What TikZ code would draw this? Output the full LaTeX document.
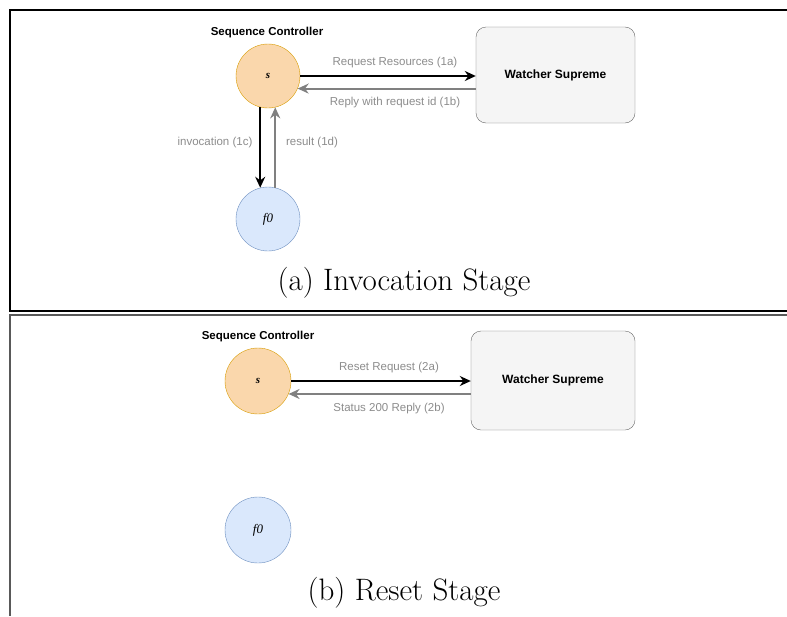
\documentclass[tikz,border=0pt]{standalone}
\usepackage{fontspec}
\newfontfamily\diagfont{Liberation Sans}
\newfontfamily\varfont{Liberation Serif}
\usepackage{tikz}
\usetikzlibrary{arrows.meta,positioning}
\usepackage{xcolor}
\definecolor{sfill}{HTML}{FAD7AC}
\definecolor{sdraw}{HTML}{D79B00}
\definecolor{ffill}{HTML}{DAE8FC}
\definecolor{fdraw}{HTML}{6C8EBF}
\definecolor{boxfill}{HTML}{F5F5F5}
\definecolor{boxdraw}{HTML}{666666}
\definecolor{lblgray}{HTML}{8C8C8C}
\definecolor{backgray}{HTML}{808080}

\begin{document}
\begin{tikzpicture}[x=1pt, y=-1pt,
    ctl/.style={circle, draw=sdraw, fill=sfill, minimum size=#1, inner sep=0pt, font=\varfont\itshape\bfseries\fontsize{11}{13}\selectfont},
    ctl/.default=64pt,
    fn/.style={circle, draw=fdraw, fill=ffill, minimum size=#1, inner sep=0pt, font=\varfont\itshape\fontsize{13}{15}\selectfont},
    fn/.default=64pt,
    watcher/.style={rectangle, draw=boxdraw, fill=boxfill, rounded corners=10pt, font=\diagfont\bfseries\fontsize{12}{14}\selectfont},
    ttl/.style={font=\diagfont\bfseries\fontsize{11.5}{13}\selectfont},
    msg/.style={font=\diagfont\fontsize{11.5}{13}\selectfont, text=lblgray},
    fwd/.style={-{Stealth[length=11pt, width=10pt]}, line width=2.5pt, black},
    back/.style={-{Stealth[length=11pt, width=10pt]}, line width=2pt, backgray},
    stagecap/.style={font=\fontsize{31}{37}\selectfont},
    frame/.style={line width=1.5pt}
]
\useasboundingbox (0,0) rectangle (787,616);

% Panel frames
\draw[frame] (787,10) -- (10,10) -- (10,311) -- (787,311);
\draw[frame, black!65] (787,315) -- (10,315) -- (10,616);

% (a) Invocation stage
\node[ttl] (ttla) at (267,33) {Sequence Controller};
\node[ctl] (sa) at (268,76) {s};
\node[fn] (fa) at (268,219) {f0};
\node[watcher, minimum width=159pt, minimum height=96pt] (wa) at (555.5,75) {Watcher Supreme};

\draw[fwd] (sa.east) -- (sa.east -| wa.west);
\draw[back] (sa.-23 -| wa.west) -- (sa.-23);
\node[msg] (m1a) at (395,63) {Request Resources (1a)};
\node[msg] (m1b) at (395,103) {Reply with request id (1b)};

\draw[fwd] (sa.-104) -- (fa.104);
\draw[back] (fa.77) -- (sa.-77);
\node[msg] (m1c) at (215,143) {invocation (1c)};
\node[msg] (m1d) at (312,143) {result (1d)};

\node[stagecap] (capa) at (404,283) {(a) Invocation Stage};

% (b) Reset stage
\node[ttl] (ttlb) at (258,337) {Sequence Controller};
\node[ctl=66pt] (sb) at (258,381) {s};
\node[fn=66pt] (fb) at (258,530) {f0};
\node[watcher, minimum width=164pt, minimum height=99pt] (wb) at (553,380.5) {Watcher Supreme};

\draw[fwd] (sb.east) -- (sb.east -| wb.west);
\draw[back] (sb.-23 -| wb.west) -- (sb.-23);
\node[msg] (m2a) at (389,368) {Reset Request (2a)};
\node[msg] (m2b) at (389,409) {Status 200 Reply (2b)};

\node[stagecap] (capb) at (404,593) {(b) Reset Stage};

\end{tikzpicture}
\end{document}
